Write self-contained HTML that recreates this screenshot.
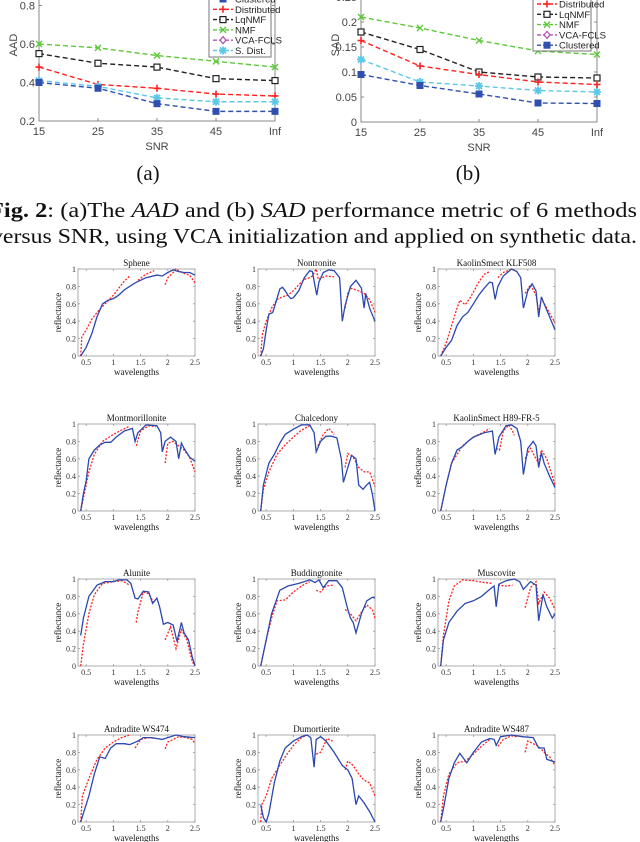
<!DOCTYPE html>
<html><head><meta charset="utf-8">
<style>
html,body{margin:0;padding:0;background:#fff;}
svg{display:block;}
.tk{font-family:"Liberation Sans",sans-serif;font-size:11px;fill:#444;}
.st{font-family:"Liberation Serif",serif;font-size:8px;fill:#333;}
.sti{font-family:"Liberation Serif",serif;font-size:9px;fill:#111;}
.cap{font-family:"Liberation Serif",serif;font-size:21px;fill:#111;}
.lg{font-family:"Liberation Sans",sans-serif;font-size:9.5px;fill:#222;}
</style></head>
<body>
<svg id="fig" width="640" height="842" viewBox="0 0 640 842" xmlns="http://www.w3.org/2000/svg">
<text class="cap" x="148" y="180" text-anchor="middle">(a)</text>
<text class="cap" x="468" y="180" text-anchor="middle">(b)</text>
<text class="cap" x="-11" y="217" textLength="648" lengthAdjust="spacingAndGlyphs"><tspan font-weight="bold">Fig. 2</tspan>: (a)The <tspan font-style="italic">AAD</tspan> and (b) <tspan font-style="italic">SAD</tspan> performance metric of 6 methods</text>
<text class="cap" x="-9" y="243" textLength="646" lengthAdjust="spacingAndGlyphs">versus SNR, using VCA initialization and applied on synthetic data.</text>
</svg>
<script>
const NS="http://www.w3.org/2000/svg";
const svg=document.getElementById('fig');
function mk(tag,attrs,parent){const e=document.createElementNS(NS,tag);for(const k in attrs)e.setAttribute(k,attrs[k]);(parent||svg).appendChild(e);return e;}

// ---------- Top charts data ----------
const snrCategories=["15","25","35","45","Inf"];
const aadClustered=[0.40,0.37,0.29,0.25,0.25];
const aadDistributed=[0.48,0.39,0.37,0.34,0.33];
const aadLqNMF=[0.55,0.50,0.48,0.42,0.41];
const aadNMF=[0.60,0.58,0.54,0.51,0.48];
const aadSDist=[0.41,0.38,0.32,0.30,0.30];
const aadTicks=[0.2,0.4,0.6,0.8];
const sadDistributed=[0.163,0.112,0.095,0.080,0.075];
const sadLqNMF=[0.180,0.145,0.100,0.090,0.088];
const sadNMF=[0.210,0.188,0.163,0.142,0.135];
const sadClustered=[0.095,0.073,0.056,0.038,0.037];
const sadSDist=[0.125,0.080,0.072,0.063,0.060];
const sadTicks=[0,0.05,0.1,0.15,0.2,0.25];

const C={blue:"#3050b0",red:"#ff2020",black:"#222",green:"#5cc83a",purple:"#b050b0",cyan:"#5cc8e8"};

function marker(g,type,x,y,col){
  let m;
  if(type==='sq'){m=mk('rect',{x:x-3,y:y-3,width:6,height:6,fill:'#fff',stroke:col,'stroke-width':1.2},g);}
  else if(type==='sqf'){m=mk('rect',{x:x-3,y:y-3,width:6,height:6,fill:col,stroke:col},g);}
  else if(type==='plus'){m=mk('path',{d:`M${x-3.5} ${y}H${x+3.5}M${x} ${y-3.5}V${y+3.5}`,stroke:col,'stroke-width':1.6},g);}
  else if(type==='x'){m=mk('path',{d:`M${x-3} ${y-3}L${x+3} ${y+3}M${x-3} ${y+3}L${x+3} ${y-3}`,stroke:col,'stroke-width':1.4},g);}
  else if(type==='star'){m=mk('path',{d:`M${x-4} ${y}H${x+4}M${x} ${y-4}V${y+4}M${x-3} ${y-3}L${x+3} ${y+3}M${x-3} ${y+3}L${x+3} ${y-3}`,stroke:col,'stroke-width':1.8},g);}
  else {m=mk('path',{d:`M${x} ${y-3.5}L${x+3} ${y}L${x} ${y+3.5}L${x-3} ${y}Z`,fill:'#fff',stroke:col,'stroke-width':1.2},g);}
  
  
}

function topChart(o){
  const g=mk('g',{});
  
  
  const xs=i=>o.x0+i*(o.x1-o.x0)/(snrCategories.length-1);
  const ys=v=>o.yb-(v-o.vmin)*o.k;
  const ax=mk('path',{d:`M${o.x0} -5V${o.yb}H${o.x1}V-5`,fill:'none',stroke:'#888','stroke-width':1},g);
  
  o.ticks.forEach(t=>{const y=ys(t);
    mk('path',{d:`M${o.x0} ${y}h3M${o.x1} ${y}h-3`,stroke:'#888'},g);
    const tl=mk('text',{class:'tk',x:o.x0-4,y:y+4,'text-anchor':'end'},g);tl.textContent=o.fmt(t);
    });
  snrCategories.forEach((c,i)=>{const x=xs(i);
    mk('path',{d:`M${x} ${o.yb}v-3`,stroke:'#888'},g);
    const tl=mk('text',{class:'tk',x:x,y:o.yb+14,'text-anchor':'middle'},g);tl.textContent=c;
    });
  const xl=mk('text',{class:'tk',x:(o.x0+o.x1)/2,y:o.yb+29,'text-anchor':'middle','font-size':'12'},g);xl.textContent='SNR';
  
  const yl=mk('text',{class:'tk',x:0,y:0,'text-anchor':'middle','font-size':'12',transform:`translate(${o.x0-22},${o.ylab}) rotate(-90)`},g);yl.textContent=o.yname;
  
  o.series.forEach(s=>{
    const d=s.vals.map((v,i)=>(i?'L':'M')+xs(i)+' '+ys(v)).join('');
    const p=mk('path',{d,fill:'none',stroke:s.col,'stroke-width':1.4,'stroke-dasharray':'5,3'},g);
    
    s.vals.forEach((v,i)=>marker(g,s.m,xs(i),ys(v),s.col));
  });
  const lg=mk('g',{},g);
  
  mk('rect',{x:o.lx,y:-5,width:o.lw,height:o.lh+5,fill:'#fff',stroke:'#777'},lg);
  o.legend.forEach((s,i)=>{const y=o.ly+i*10.3;
    const e=mk('g',{},lg);
    
    mk('path',{d:`M${o.lx+4} ${y}h20`,stroke:s.col,'stroke-width':1.4,'stroke-dasharray':'4,2'},e);
    marker(e,s.m,o.lx+14,y,s.col);
    const t=mk('text',{class:'lg',x:o.lx+26,y:y+3.5},e);t.textContent=s.label;});
}

const legA=[{label:'Clustered',col:C.blue,m:'sqf'},{label:'Distributed',col:C.red,m:'plus'},{label:'LqNMF',col:C.black,m:'sq'},{label:'NMF',col:C.green,m:'x'},{label:'VCA-FCLS',col:C.purple,m:'dia'},{label:'S. Dist.',col:C.cyan,m:'star'}];
topChart({name:'aad-chart',x0:39,x1:275,yb:121,vmin:0.2,k:192.5,ticks:aadTicks,fmt:t=>t.toFixed(1),yname:'AAD',ylab:45,
  series:[{id:'nmf',vals:aadNMF,col:C.green,m:'x'},{id:'lqnmf',vals:aadLqNMF,col:C.black,m:'sq'},{id:'distributed',vals:aadDistributed,col:C.red,m:'plus'},{id:'sdist',vals:aadSDist,col:C.cyan,m:'star'},{id:'clustered',vals:aadClustered,col:C.blue,m:'sqf'}],
  legend:legA,lx:209,lw:62,lh:57,ly:-1});
const legB=[{label:'Distributed',col:C.red,m:'plus'},{label:'LqNMF',col:C.black,m:'sq'},{label:'NMF',col:C.green,m:'x'},{label:'VCA-FCLS',col:C.purple,m:'dia'},{label:'Clustered',col:C.blue,m:'sqf'}];
topChart({name:'sad-chart',x0:361,x1:597,yb:122,vmin:0,k:500,ticks:sadTicks,fmt:t=>t===0?'0':String(t),yname:'SAD',ylab:45,
  series:[{id:'nmf',vals:sadNMF,col:C.green,m:'x'},{id:'lqnmf',vals:sadLqNMF,col:C.black,m:'sq'},{id:'distributed',vals:sadDistributed,col:C.red,m:'plus'},{id:'sdist',vals:sadSDist,col:C.cyan,m:'star'},{id:'clustered',vals:sadClustered,col:C.blue,m:'sqf'}],
  legend:legB,lx:533,lw:58,lh:51,ly:4});

// ---------- Spectral plots data ([wavelength, reflectance], null = gap) ----------
const specTitles=["Sphene","Nontronite","KaolinSmect KLF508","Montmorillonite","Chalcedony","KaolinSmect H89-FR-5","Alunite","Buddingtonite","Muscovite","Andradite WS474","Dumortierite","Andradite WS487"];
const wlTicks=[0.5,1,1.5,2,2.5];
const reflTicks=[0,0.2,0.4,0.6,0.8,1];
const blueSphene=[[0.4,0],[0.5,0.1],[0.6,0.25],[0.7,0.45],[0.8,0.6],[0.9,0.64],[1.0,0.66],[1.1,0.7],[1.2,0.76],[1.4,0.84],[1.6,0.9],[1.8,0.93],[1.9,0.92],[2.0,0.96],[2.1,0.99],[2.2,0.97],[2.3,0.96],[2.4,0.96],[2.5,0.93]];
const redSphene=[[0.4,0],[0.42,0.22],[0.5,0.3],[0.6,0.42],[0.7,0.5],[0.8,0.57],[0.9,0.63],[1.0,0.7],[1.1,0.78],[1.2,0.86],[1.3,0.92],null,[1.45,0.87],[1.6,0.94],[1.75,0.98],null,[1.95,0.82],[2.0,0.9],[2.1,0.96],[2.15,1.0],[2.2,0.98],[2.3,0.95],[2.4,0.93],[2.5,0.84]];
const blueNontronite=[[0.4,0],[0.45,0.08],[0.5,0.3],[0.55,0.48],[0.62,0.5],[0.68,0.62],[0.75,0.77],[0.8,0.79],[0.85,0.75],[0.9,0.7],[0.95,0.66],[1.0,0.67],[1.1,0.75],[1.2,0.9],[1.3,0.98],[1.35,0.97],[1.4,0.8],[1.43,0.7],[1.47,0.85],[1.55,0.96],[1.65,0.99],[1.75,0.98],[1.85,0.9],[1.9,0.4],[1.95,0.58],[2.05,0.8],[2.15,0.87],[2.25,0.78],[2.3,0.55],[2.33,0.72],[2.4,0.55],[2.5,0.4]];
const redNontronite=[[0.4,0],[0.43,0.25],[0.5,0.4],[0.6,0.55],[0.7,0.65],[0.8,0.68],[0.9,0.7],[1.0,0.75],[1.1,0.82],[1.2,0.88],[1.3,0.9],[1.35,0.92],[1.42,1.0],[1.46,0.88],[1.6,0.92],[1.75,0.91],null,[1.95,0.55],[2.0,0.72],[2.05,0.78],[2.2,0.75],[2.3,0.72],[2.4,0.65],[2.5,0.5]];
const blueKLF508=[[0.4,0],[0.5,0.1],[0.6,0.18],[0.7,0.35],[0.8,0.45],[0.9,0.5],[1.0,0.6],[1.1,0.7],[1.2,0.78],[1.3,0.85],[1.35,0.84],[1.4,0.65],[1.45,0.8],[1.55,0.92],[1.7,1.0],[1.8,0.97],[1.87,0.9],[1.92,0.55],[2.0,0.75],[2.08,0.83],[2.15,0.75],[2.2,0.45],[2.25,0.68],[2.3,0.6],[2.4,0.45],[2.5,0.3]];
const redKLF508=[[0.4,0],[0.5,0.15],[0.6,0.35],[0.7,0.55],[0.75,0.64],[0.85,0.59],[0.95,0.68],[1.1,0.85],[1.2,0.94],[1.3,0.97],null,[1.45,0.9],[1.55,0.96],[1.7,1.0],[1.8,0.97],null,[1.95,0.72],[2.05,0.82],[2.15,0.7],[2.2,0.5],[2.25,0.66],[2.35,0.55],[2.5,0.38]];
const blueMontmorillonite=[[0.4,0],[0.45,0.2],[0.5,0.35],[0.55,0.6],[0.65,0.7],[0.75,0.76],[0.85,0.79],[0.95,0.79],[1.05,0.85],[1.2,0.92],[1.35,0.95],[1.4,0.8],[1.45,0.9],[1.6,0.99],[1.8,0.98],[1.87,0.9],[1.9,0.68],[1.95,0.8],[2.05,0.85],[2.15,0.8],[2.2,0.6],[2.25,0.78],[2.3,0.72],[2.4,0.62],[2.5,0.57]];
const redMontmorillonite=[[0.4,0],[0.45,0.15],[0.55,0.45],[0.65,0.65],[0.8,0.8],[1.0,0.88],[1.15,0.93],[1.28,0.97],null,[1.42,0.75],[1.5,0.92],[1.65,0.98],[1.78,0.97],null,[1.95,0.55],[2.0,0.78],[2.1,0.8],[2.2,0.75],[2.3,0.7],[2.4,0.62],[2.5,0.45]];
const blueChalcedony=[[0.4,0],[0.45,0.3],[0.55,0.55],[0.65,0.65],[0.75,0.78],[0.85,0.88],[1.0,0.94],[1.15,0.99],[1.3,0.99],[1.38,0.9],[1.42,0.68],[1.5,0.8],[1.6,0.86],[1.7,0.86],[1.8,0.84],[1.88,0.6],[1.92,0.33],[2.0,0.5],[2.07,0.64],[2.15,0.6],[2.2,0.3],[2.28,0.25],[2.35,0.3],[2.4,0.33],[2.45,0.2],[2.5,0]];
const redChalcedony=[[0.4,0],[0.45,0.25],[0.55,0.45],[0.7,0.65],[0.85,0.76],[1.0,0.85],[1.15,0.93],[1.3,0.98],null,[1.45,0.75],[1.55,0.88],[1.65,0.95],[1.75,0.88],null,[1.95,0.5],[2.0,0.66],[2.1,0.62],[2.2,0.5],[2.3,0.45],[2.4,0.45],[2.5,0.28]];
const blueH89=[[0.4,0],[0.5,0.3],[0.6,0.55],[0.7,0.7],[0.8,0.74],[0.9,0.8],[1.0,0.85],[1.2,0.9],[1.35,0.92],[1.4,0.65],[1.47,0.85],[1.6,0.98],[1.7,0.99],[1.8,0.95],[1.87,0.8],[1.92,0.42],[2.0,0.72],[2.1,0.8],[2.15,0.75],[2.2,0.5],[2.25,0.67],[2.3,0.55],[2.4,0.4],[2.5,0.27]];
const redH89=[[0.4,0],[0.5,0.3],[0.6,0.55],[0.8,0.75],[1.0,0.85],[1.2,0.91],[1.3,0.95],null,[1.42,0.72],[1.48,0.7],[1.55,0.92],[1.65,0.99],[1.72,0.92],[1.75,0.87],null,[1.95,0.6],[2.05,0.72],[2.15,0.6],[2.2,0.55],[2.25,0.7],[2.35,0.6],[2.5,0.3]];
const blueAlunite=[[0.4,0.35],[0.45,0.55],[0.55,0.8],[0.7,0.93],[0.85,0.97],[1.0,0.97],[1.1,0.99],[1.25,0.99],[1.32,0.95],[1.4,0.78],[1.45,0.77],[1.55,0.86],[1.65,0.85],[1.72,0.72],[1.8,0.78],[1.85,0.68],[1.92,0.48],[2.0,0.5],[2.1,0.47],[2.17,0.28],[2.25,0.5],[2.3,0.38],[2.38,0.3],[2.45,0.1],[2.5,0]];
const redAlunite=[[0.4,0],[0.45,0.25],[0.55,0.6],[0.65,0.82],[0.8,0.95],[1.0,0.97],[1.15,0.98],[1.3,0.93],null,[1.42,0.5],[1.45,0.62],[1.55,0.85],[1.65,0.83],[1.75,0.72],null,[1.95,0.3],[2.05,0.45],[2.15,0.2],[2.25,0.42],[2.35,0.3],[2.45,0.05],[2.5,0]];
const blueBuddingtonite=[[0.4,0],[0.5,0.3],[0.6,0.6],[0.75,0.87],[0.9,0.92],[1.1,0.95],[1.3,0.99],[1.4,0.96],[1.47,0.99],[1.55,0.9],[1.65,0.98],[1.8,0.98],[1.9,0.9],[2.0,0.65],[2.05,0.55],[2.1,0.5],[2.15,0.38],[2.25,0.6],[2.35,0.75],[2.45,0.79],[2.5,0.78]];
const redBuddingtonite=[[0.4,0],[0.5,0.3],[0.6,0.55],[0.7,0.75],[0.85,0.76],[1.0,0.85],[1.15,0.92],[1.3,0.97],null,[1.42,0.87],[1.5,0.85],[1.6,0.92],[1.75,0.93],null,[1.95,0.65],[2.05,0.6],[2.15,0.52],[2.25,0.62],[2.35,0.7],[2.45,0.65],[2.5,0.55]];
const blueMuscovite=[[0.4,0],[0.45,0.3],[0.55,0.5],[0.7,0.63],[0.85,0.72],[1.0,0.75],[1.15,0.8],[1.3,0.88],[1.38,0.92],[1.42,0.68],[1.47,0.94],[1.6,0.98],[1.75,1.0],[1.85,0.97],[1.92,0.88],[2.05,0.97],[2.15,0.93],[2.2,0.52],[2.28,0.82],[2.35,0.68],[2.45,0.55],[2.5,0.6]];
const redMuscovite=[[0.4,0],[0.45,0.35],[0.55,0.75],[0.65,0.92],[0.8,0.99],[1.0,0.98],[1.2,0.96],[1.35,0.95],null,[1.45,0.93],[1.6,0.92],[1.72,0.93],null,[1.95,0.67],[2.05,0.9],[2.15,0.97],[2.2,0.72],[2.3,0.85],[2.4,0.78],[2.5,0.65]];
const blueWS474=[[0.4,0],[0.45,0.1],[0.55,0.3],[0.65,0.55],[0.75,0.75],[0.85,0.73],[0.95,0.85],[1.05,0.9],[1.2,0.9],[1.3,0.89],[1.45,0.93],[1.55,0.97],[1.7,0.97],[1.9,0.95],[2.0,0.97],[2.15,1.0],[2.3,0.98],[2.5,0.97]];
const redWS474=[[0.4,0],[0.43,0.3],[0.55,0.5],[0.7,0.72],[0.85,0.85],[1.0,0.92],[1.15,0.97],[1.3,1.0],null,[1.4,0.85],[1.5,0.95],[1.65,0.97],[1.78,0.96],null,[1.95,0.84],[2.0,0.92],[2.1,0.95],[2.2,0.98],[2.35,0.97],[2.45,0.95],[2.5,0.9]];
const blueDumortierite=[[0.4,0.2],[0.45,0.05],[0.5,0],[0.55,0.1],[0.65,0.45],[0.75,0.7],[0.85,0.85],[1.0,0.93],[1.15,0.98],[1.25,1.0],[1.32,0.97],[1.38,0.63],[1.42,0.95],[1.5,0.98],[1.6,0.93],[1.75,0.8],[1.9,0.65],[2.0,0.6],[2.08,0.5],[2.15,0.2],[2.2,0.3],[2.3,0.22],[2.4,0.12],[2.5,0]];
const redDumortierite=[[0.4,0],[0.42,0.2],[0.5,0.3],[0.6,0.5],[0.7,0.6],[0.85,0.75],[1.0,0.88],[1.15,0.97],[1.25,1.0],null,[1.42,0.78],[1.5,0.8],[1.62,0.96],[1.72,0.93],null,[1.95,0.6],[2.0,0.7],[2.1,0.65],[2.2,0.55],[2.3,0.48],[2.4,0.45],[2.5,0.3]];
const blueWS487=[[0.4,0],[0.45,0.15],[0.55,0.5],[0.65,0.68],[0.75,0.79],[0.88,0.68],[1.0,0.8],[1.15,0.92],[1.3,0.96],[1.38,0.95],[1.42,0.88],[1.5,0.98],[1.7,1.0],[1.9,0.98],[2.1,0.97],[2.2,0.85],[2.3,0.85],[2.35,0.72],[2.5,0.69]];
const redWS487=[[0.4,0],[0.45,0.3],[0.55,0.55],[0.7,0.68],[0.85,0.7],[1.0,0.78],[1.15,0.87],[1.3,0.95],null,[1.45,0.87],[1.55,0.95],[1.7,0.99],[1.8,0.98],null,[1.95,0.8],[2.0,0.93],[2.1,0.9],[2.2,0.87],[2.3,0.8],[2.4,0.75],[2.5,0.65]];

const blueSeries=[blueSphene,blueNontronite,blueKLF508,blueMontmorillonite,blueChalcedony,blueH89,blueAlunite,blueBuddingtonite,blueMuscovite,blueWS474,blueDumortierite,blueWS487];
const redSeries=[redSphene,redNontronite,redKLF508,redMontmorillonite,redChalcedony,redH89,redAlunite,redBuddingtonite,redMuscovite,redWS474,redDumortierite,redWS487];

const colLeft=[78,258,438], colW=117;
const rowTop=[269,424,579,735], rowH=87;
const wmin=0.35,wmax=2.5;

function pathFrom(pts,xs,ys){let d='',pen=false;
  pts.forEach(p=>{if(p===null){pen=false;return;}d+=(pen?'L':'M')+xs(p[0]).toFixed(1)+' '+ys(p[1]).toFixed(1);pen=true;});return d;}

specTitles.forEach((title,i)=>{
  const x0=colLeft[i%3], y0=rowTop[Math.floor(i/3)];
  const xs=w=>x0+(w-wmin)/(wmax-wmin)*colW;
  const ys=r=>y0+rowH-r*rowH;
  const g=mk('g',{});
  
  
  const box=mk('rect',{x:x0,y:y0,width:colW,height:rowH,fill:'none',stroke:'#999','stroke-width':0.8},g);
  
  reflTicks.forEach(t=>{const y=ys(t);
    mk('path',{d:`M${x0} ${y}h2M${x0+colW} ${y}h-2`,stroke:'#999','stroke-width':0.8},g);
    const tl=mk('text',{class:'st',x:x0-2,y:y+3,'text-anchor':'end'},g);tl.textContent=String(t);
    });
  wlTicks.forEach(t=>{const x=xs(t);
    mk('path',{d:`M${x} ${y0+rowH}v-2M${x} ${y0}v2`,stroke:'#999','stroke-width':0.8},g);
    const tl=mk('text',{class:'st',x:x,y:y0+rowH+9,'text-anchor':'middle'},g);tl.textContent=String(t);
    });
  const tt=mk('text',{class:'sti',x:x0+colW/2,y:y0-3,'text-anchor':'middle'},g);tt.textContent=title;
  
  const xl=mk('text',{class:'sti',x:x0+colW/2,y:y0+rowH+19,'text-anchor':'middle'},g);xl.textContent='wavelengths';
  
  const yl=mk('text',{class:'sti',x:0,y:0,'text-anchor':'middle',transform:`translate(${x0-17},${y0+rowH/2}) rotate(-90)`},g);yl.textContent='reflectance';
  
  const rp=mk('path',{d:pathFrom(redSeries[i],xs,ys),fill:'none',stroke:'#ff2020','stroke-width':1.3,'stroke-dasharray':'2,1.5'},g);
  
  const bp=mk('path',{d:pathFrom(blueSeries[i],xs,ys),fill:'none',stroke:'#2a48b0','stroke-width':1.3},g);
  
});
</script>
</body></html>
